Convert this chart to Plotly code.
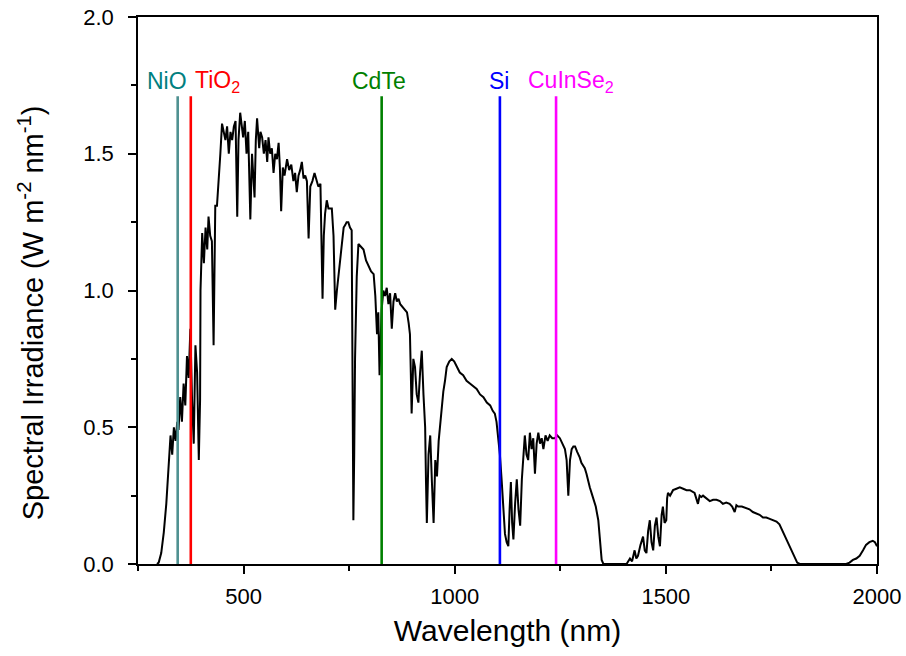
import plotly.graph_objects as go

# AM1.5G-like solar spectrum
wavelength_nm = [
    295, 299, 305, 311, 317, 323, 327, 331, 335, 339, 343, 346, 350, 354, 358, 362, 366, 370, 374, 378,
    382, 386, 390, 394, 397, 398, 402, 406, 410, 414, 417, 421, 425, 429, 433, 437, 441, 445, 449, 453,
    457, 461, 465, 469, 473, 477, 481, 485, 488, 492, 495, 499, 503, 507, 511, 516, 520, 526, 529, 532,
    537, 540, 544, 548, 552, 556, 559, 563, 567, 571, 575, 579, 583, 586, 589, 593, 597, 603, 608, 613,
    618, 622, 626, 630, 634, 638, 642, 646, 650, 654, 658, 663, 668, 672, 677, 682, 687, 690, 693, 697,
    701, 705, 709, 713, 717, 721, 725, 729, 733, 737, 741, 744, 748, 752, 756, 758, 760, 762, 764, 768,
    772, 778, 784, 790, 796, 802, 808, 812, 816, 819, 822, 825, 827, 831, 835, 839, 843, 847, 851, 855,
    859, 863, 867, 871, 876, 881, 887, 891, 894, 896, 898, 902, 906, 910, 914, 918, 922, 926, 930, 932,
    934, 938, 942, 946, 950, 954, 958, 962, 965, 969, 973, 977, 981, 987, 993, 999, 1005, 1012, 1020, 1028,
    1036, 1044, 1052, 1060, 1068, 1076, 1084, 1090, 1095, 1099, 1103, 1107, 1111, 1115, 1119, 1123, 1127, 1130, 1133, 1136,
    1139, 1143, 1147, 1151, 1155, 1159, 1162, 1166, 1170, 1174, 1178, 1182, 1186, 1190, 1194, 1198, 1202, 1206, 1210, 1215,
    1220, 1225, 1231, 1237, 1243, 1249, 1255, 1261, 1265, 1269, 1273, 1277, 1281, 1285, 1290, 1296, 1300, 1304, 1308, 1312,
    1316, 1320, 1324, 1328, 1334, 1340, 1344, 1348, 1352, 1380, 1407, 1411, 1415, 1420, 1426, 1430, 1434, 1440, 1446, 1450,
    1454, 1458, 1462, 1466, 1470, 1474, 1478, 1482, 1486, 1490, 1493, 1497, 1501, 1503, 1505, 1510, 1517, 1525, 1533, 1541,
    1549, 1557, 1563, 1568, 1572, 1576, 1580, 1584, 1588, 1596, 1604, 1612, 1620, 1628, 1635, 1643, 1651, 1657, 1663, 1667,
    1671, 1680, 1691, 1698, 1706, 1714, 1722, 1730, 1738, 1746, 1754, 1762, 1769, 1775, 1781, 1787, 1793, 1799, 1805, 1811,
    1817, 1900, 1927, 1935, 1943, 1951, 1959, 1967, 1974, 1982, 1990, 1995, 2000,
]
irradiance = [
    0.0, 0.005, 0.04, 0.115, 0.22, 0.36, 0.47, 0.40, 0.50, 0.45, 0.52, 0.49, 0.61, 0.52, 0.66, 0.58, 0.76, 0.68, 0.86, 0.60,
    0.44, 0.80, 0.70, 0.38, 0.60, 1.00, 1.21, 1.10, 1.23, 1.15, 1.27, 1.20, 1.18, 0.80, 1.31, 1.31, 1.39, 1.50, 1.61, 1.58,
    1.55, 1.60, 1.50, 1.58, 1.55, 1.60, 1.62, 1.27, 1.55, 1.65, 1.60, 1.56, 1.62, 1.50, 1.58, 1.26, 1.50, 1.34, 1.55, 1.63,
    1.52, 1.58, 1.56, 1.50, 1.55, 1.47, 1.56, 1.50, 1.52, 1.43, 1.50, 1.48, 1.54, 1.45, 1.29, 1.45, 1.42, 1.48, 1.44, 1.46,
    1.40, 1.43, 1.36, 1.42, 1.44, 1.47, 1.41, 1.42, 1.40, 1.19, 1.38, 1.40, 1.43, 1.41, 1.38, 1.39, 0.97, 1.20, 1.28, 1.33,
    1.30, 1.30, 1.30, 1.20, 0.93, 1.00, 1.06, 1.12, 1.18, 1.23, 1.24, 1.25, 1.25, 1.23, 1.22, 0.80, 0.16, 0.40, 0.75, 1.05,
    1.17, 1.16, 1.15, 1.11, 1.09, 1.07, 1.06, 0.98, 0.84, 0.92, 0.69, 0.85, 0.93, 1.00, 0.98, 1.01, 0.95, 0.99, 0.86, 0.96,
    0.99, 0.96, 0.97, 0.95, 0.94, 0.93, 0.92, 0.88, 0.84, 0.70, 0.55, 0.75, 0.72, 0.62, 0.59, 0.70, 0.78, 0.62, 0.50, 0.30,
    0.15, 0.40, 0.47, 0.30, 0.15, 0.38, 0.32, 0.45, 0.50, 0.58, 0.63, 0.67, 0.72, 0.74, 0.75, 0.74, 0.72, 0.70, 0.69, 0.67,
    0.66, 0.65, 0.64, 0.62, 0.61, 0.59, 0.58, 0.56, 0.55, 0.52, 0.47, 0.40, 0.31, 0.20, 0.11, 0.08, 0.065, 0.20, 0.30, 0.15,
    0.09, 0.22, 0.31, 0.20, 0.14, 0.31, 0.40, 0.47, 0.40, 0.38, 0.48, 0.42, 0.46, 0.33, 0.44, 0.48, 0.44, 0.46, 0.42, 0.47,
    0.45, 0.47, 0.46, 0.46, 0.47, 0.46, 0.44, 0.42, 0.38, 0.25, 0.38, 0.42, 0.43, 0.43, 0.41, 0.39, 0.37, 0.36, 0.35, 0.33,
    0.30, 0.28, 0.26, 0.24, 0.21, 0.16, 0.10, 0.015, 0.0, 0.0, 0.0, 0.01, 0.02, 0.01, 0.05, 0.02, 0.03, 0.07, 0.10, 0.05,
    0.04, 0.12, 0.16, 0.08, 0.05, 0.14, 0.17, 0.10, 0.065, 0.18, 0.21, 0.15, 0.16, 0.24, 0.26, 0.25, 0.27, 0.275, 0.28, 0.275,
    0.27, 0.27, 0.265, 0.26, 0.24, 0.22, 0.25, 0.245, 0.25, 0.24, 0.23, 0.235, 0.235, 0.23, 0.22, 0.225, 0.22, 0.21, 0.19, 0.215,
    0.21, 0.21, 0.205, 0.20, 0.19, 0.185, 0.18, 0.17, 0.17, 0.165, 0.16, 0.155, 0.145, 0.125, 0.10, 0.08, 0.065, 0.04, 0.02, 0.005,
    0.0, 0.0, 0.0, 0.005, 0.015, 0.02, 0.03, 0.05, 0.07, 0.08, 0.085, 0.08, 0.065,
]

# Band-gap absorption edges of the materials
materials = ["NiO", "TiO<sub>2</sub>", "CdTe", "Si", "CuInSe<sub>2</sub>"]
edge_nm = [344, 375, 827, 1107, 1240]
line_top = 1.71
label_y = 1.765
label_colors = ["#008080", "#ff0000", "#008000", "#0000ff", "#ff00ff"]
line_colors = ["#4f9191", "#ff0000", "#008000", "#0000ff", "#ff00ff"]
label_shift_px = [-11, 27, -3, -1, 15]

x_ticks = [500, 1000, 1500, 2000]
y_ticks = [0.0, 0.5, 1.0, 1.5, 2.0]

FONT = "Liberation Sans, Arial, sans-serif"

fig = go.Figure()
fig.add_trace(go.Scatter(x=wavelength_nm, y=irradiance, mode="lines",
                         line=dict(color="black", width=2), showlegend=False,
                         hoverinfo="skip"))

for name, wl, lc in zip(materials, edge_nm, line_colors):
    fig.add_trace(go.Scatter(x=[wl, wl], y=[0, line_top], mode="lines",
                             line=dict(color=lc, width=2.6), showlegend=False,
                             hoverinfo="skip"))

for name, wl, tc, sh in zip(materials, edge_nm, label_colors, label_shift_px):
    fig.add_annotation(x=wl, y=label_y, xref="x", yref="y", text=name,
                       showarrow=False, xanchor="center", yanchor="middle",
                       xshift=sh, font=dict(family=FONT, size=23, color=tc))

# y-axis title as a rotated annotation (placed in paper coordinates)
fig.add_annotation(xref="paper", yref="paper", x=-0.1453, y=0.4594,
                   text="Spectral Irradiance (W m<sup>-2</sup> nm<sup>-1</sup>)",
                   textangle=-90, showarrow=False, xanchor="center", yanchor="middle",
                   font=dict(family=FONT, size=29, color="black"))

fig.update_layout(
    width=906, height=656,
    margin=dict(l=137.5, r=28.5, t=17, b=91.5, autoexpand=False),
    paper_bgcolor="white", plot_bgcolor="white",
    font=dict(family=FONT, color="black"),
    showlegend=False,
)
fig.update_xaxes(
    range=[250, 2000], tickvals=x_ticks, ticktext=[str(v) for v in x_ticks],
    showgrid=False, zeroline=False, automargin=False,
    showline=True, linecolor="black", linewidth=1.6, mirror=True,
    ticks="outside", ticklen=8, tickwidth=1.6, tickcolor="black",
    ticklabelstandoff=4,
    tickfont=dict(family=FONT, size=22, color="black"),
    minor=dict(dtick=250, tick0=250, ticks="outside", ticklen=5, tickwidth=1.6, tickcolor="black"),
    title=dict(text="Wavelength (nm)", font=dict(family=FONT, size=30, color="black"), standoff=12),
)
fig.update_yaxes(
    range=[0, 2.0], tickvals=y_ticks, ticktext=[f"{v:.1f}" for v in y_ticks],
    showgrid=False, zeroline=False, automargin=False,
    showline=True, linecolor="black", linewidth=1.6, mirror=True,
    ticks="outside", ticklen=8, tickwidth=1.6, tickcolor="black",
    ticklabelstandoff=10,
    tickfont=dict(family=FONT, size=22, color="black"),
    minor=dict(dtick=0.25, tick0=0, ticks="outside", ticklen=5, tickwidth=1.6, tickcolor="black"),
)

fig.write_html("out.html", config={"displayModeBar": False},
               post_script="document.body.style.margin='0';document.body.style.overflow='hidden';")
